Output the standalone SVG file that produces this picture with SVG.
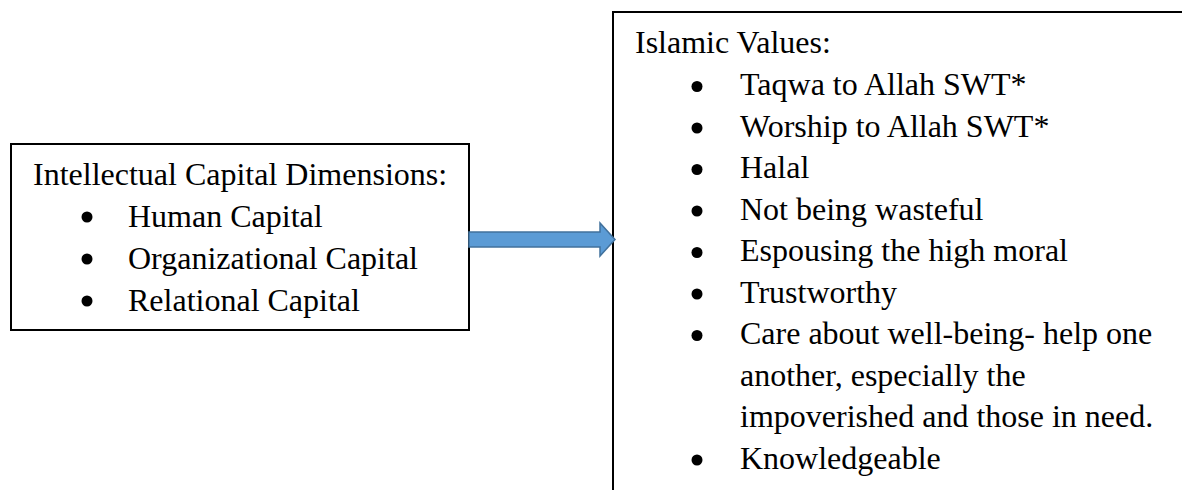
<svg xmlns="http://www.w3.org/2000/svg" width="1182" height="490" viewBox="0 0 1182 490">
<style>
.box{fill:#fff;stroke:#000;stroke-width:2}
.t{font-family:"Liberation Serif","Times New Roman",serif;font-size:32px;fill:#000}
.b{fill:#000}
.arr{fill:#5B9BD5;stroke:#41719C;stroke-width:1.5}
</style>
<g id="node-ic">
<rect class="box" x="11" y="144" width="458" height="186"/>
<text class="t" x="33" y="185">Intellectual Capital Dimensions:</text>
<circle class="b" cx="87" cy="217" r="5.5"/>
<text class="t" x="128" y="227">Human Capital</text>
<circle class="b" cx="87" cy="259" r="5.5"/>
<text class="t" x="128" y="269">Organizational Capital</text>
<circle class="b" cx="87" cy="301" r="5.5"/>
<text class="t" x="128" y="311">Relational Capital</text>
</g>
<g id="node-iv">
<rect class="box" x="613" y="12" width="620" height="520"/>
<text class="t" x="635" y="53">Islamic Values:</text>
<circle class="b" cx="697" cy="86.5" r="5.5"/>
<text class="t" x="740" y="95">Taqwa to Allah SWT*</text>
<circle class="b" cx="697" cy="128" r="5.5"/>
<text class="t" x="740" y="136.5">Worship to Allah SWT*</text>
<circle class="b" cx="697" cy="169.5" r="5.5"/>
<text class="t" x="740" y="178">Halal</text>
<circle class="b" cx="697" cy="211" r="5.5"/>
<text class="t" x="740" y="219.5">Not being wasteful</text>
<circle class="b" cx="697" cy="252.5" r="5.5"/>
<text class="t" x="740" y="261">Espousing the high moral</text>
<circle class="b" cx="697" cy="294" r="5.5"/>
<text class="t" x="740" y="302.5">Trustworthy</text>
<circle class="b" cx="697" cy="335.5" r="5.5"/>
<text class="t" x="740" y="344">Care about well-being- help one</text>
<text class="t" x="740" y="385.5">another, especially the</text>
<text class="t" x="740" y="427">impoverished and those in need.</text>
<circle class="b" cx="697" cy="460" r="5.5"/>
<text class="t" x="740" y="468.5">Knowledgeable</text>
</g>
<g id="connectors">
<path class="arr" d="M469,232 H600 V223 L615,239.5 L600,256 V247 H469 Z"/>
</g>
</svg>
